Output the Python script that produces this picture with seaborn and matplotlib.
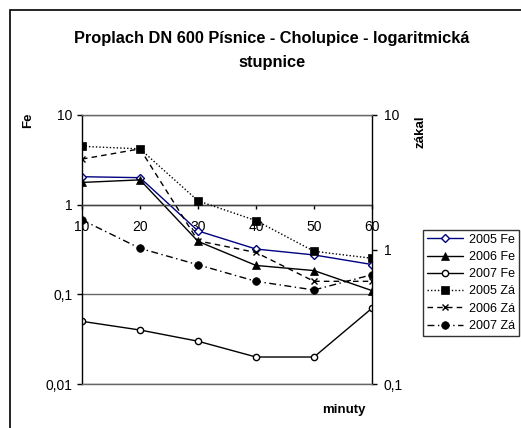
import matplotlib
matplotlib.use("Agg")
import matplotlib.pyplot as plt
import seaborn as sns
from matplotlib.ticker import FixedLocator, FuncFormatter, NullLocator
from matplotlib.patches import Rectangle

# ---- data ----
minutes = [10, 20, 30, 40, 50, 60]
fe_2005 = [2.05, 2.0, 0.51, 0.32, 0.275, 0.215]
fe_2006 = [1.77, 1.89, 0.39, 0.21, 0.184, 0.11]
fe_2007 = [0.05, 0.04, 0.03, 0.02, 0.02, 0.07]
za_2005 = [5.85, 5.6, 2.3, 1.64, 0.97, 0.86]
za_2006 = [4.7, 5.6, 1.16, 0.95, 0.58, 0.58]
za_2007 = [1.66, 1.02, 0.77, 0.58, 0.50, 0.65]

title = "Proplach DN 600 Písnice - Cholupice - logaritmická\nstupnice"
left_ticks = [0.01, 0.1, 1, 10]
right_ticks = [0.1, 1, 10]

sns.set_theme(style="white")
plt.rcParams['font.family'] = ['Liberation Sans', 'DejaVu Sans']
plt.rcParams['text.color'] = 'black'
plt.rcParams['axes.labelcolor'] = 'black'
plt.rcParams['xtick.color'] = 'black'
plt.rcParams['ytick.color'] = 'black'

W, H = 521, 428
fig = plt.figure(figsize=(W / 100, H / 100), dpi=100)
ax = fig.add_axes([82 / W, 1 - 384 / H, (372 - 82) / W, (384 - 115) / H])
ax2 = ax.twinx()

navy = "#000080"
lw = 1.0
sns.lineplot(x=minutes, y=fe_2005, ax=ax, color=navy, lw=lw, marker="D", markersize=4,
             markerfacecolor="white", markeredgecolor=navy, markeredgewidth=1,
             label="2005 Fe", legend=False)
sns.lineplot(x=minutes, y=fe_2006, ax=ax, color="black", lw=lw, marker="^", markersize=6,
             markerfacecolor="black", markeredgecolor="black", markeredgewidth=0.5,
             label="2006 Fe", legend=False)
sns.lineplot(x=minutes, y=fe_2007, ax=ax, color="black", lw=lw, marker="o", markersize=4.5,
             markerfacecolor="white", markeredgecolor="black", markeredgewidth=1,
             label="2007 Fe", legend=False)
sns.lineplot(x=minutes, y=za_2005, ax=ax2, color="black", lw=lw, linestyle=(0, (1, 1.5)),
             marker="s", markersize=5.5, markerfacecolor="black", markeredgecolor="black",
             markeredgewidth=0.5, label="2005 Zá", legend=False)
sns.lineplot(x=minutes, y=za_2006, ax=ax2, color="black", lw=lw, linestyle=(0, (4, 3)),
             marker="x", markersize=5, markeredgecolor="black", markeredgewidth=1,
             label="2006 Zá", legend=False)
sns.lineplot(x=minutes, y=za_2007, ax=ax2, color="black", lw=lw, linestyle=(0, (5, 2.5, 1, 2.5)),
             marker="o", markersize=5.5, markerfacecolor="black", markeredgecolor="black",
             markeredgewidth=0.5, label="2007 Zá", legend=False)

fmt = FuncFormatter(lambda v, p: f"{v:g}".replace(".", ","))

for a in (ax, ax2):
    a.set_yscale("log")
    a.set_xlim(10, 60)
    a.set_xlabel("")
    a.set_ylabel("")
    a.yaxis.set_minor_locator(NullLocator())
    for s in a.spines.values():
        s.set_visible(False)

ax.set_ylim(0.01, 10)
ax.yaxis.set_major_locator(FixedLocator(left_ticks))
ax.yaxis.set_major_formatter(fmt)
ax.yaxis.grid(True, color="#666666", lw=1)
ax.xaxis.grid(False)
ax.set_xticks(minutes)
ax.set_xticklabels([str(m) for m in minutes])
ax.spines["left"].set_visible(True)
ax.spines["left"].set_color("black")
ax.spines["left"].set_linewidth(1)
ax.spines["bottom"].set_visible(True)
ax.spines["bottom"].set_position(("data", 1))
ax.spines["bottom"].set_color("#444444")
ax.spines["bottom"].set_linewidth(1)
ax.tick_params(axis="y", which="major", left=True, direction="out", length=3.6, width=1,
               color="black", pad=3, labelsize=10, labelcolor="black")
ax.tick_params(axis="x", which="major", bottom=True, direction="out", length=3, width=1,
               color="black", pad=8, labelsize=10, labelcolor="black")

ax2.set_ylim(0.1, 10)
ax2.yaxis.set_major_locator(FixedLocator(right_ticks))
ax2.yaxis.set_major_formatter(fmt)
ax2.grid(False)
for side in ("top", "bottom"):
    ax2.spines[side].set_visible(True)
    ax2.spines[side].set_color("#666666")
    ax2.spines[side].set_linewidth(1)
ax2.spines["right"].set_visible(True)
ax2.spines["right"].set_color("black")
ax2.spines["right"].set_linewidth(1)
ax2.tick_params(axis="x", which="both", bottom=False, top=False, labelbottom=False)
ax2.tick_params(axis="y", which="major", right=True, direction="out", length=3.6, width=1,
                color="black", pad=5, labelsize=10, labelcolor="black")

# texts
fig.text(272 / W, 1 - 50 / H, title, ha="center", va="center", fontsize=11.8,
         fontweight="bold", linespacing=1.75)
fig.text(28 / W, 1 - 120 / H, "Fe", rotation=90, ha="center", va="center",
         fontsize=9.5, fontweight="bold")
fig.text(421 / W, 1 - 132 / H, "zákal", rotation=90, ha="center", va="center",
         fontsize=9.5, fontweight="bold")
fig.text(344 / W, 1 - 410 / H, "minuty", ha="center", va="center",
         fontsize=9.5, fontweight="bold")

# legend
h1, l1 = ax.get_legend_handles_labels()
h2, l2 = ax2.get_legend_handles_labels()
leg = fig.legend(h1 + h2, l1 + l2, loc="upper left",
                 bbox_to_anchor=(423 / W, 1 - 230 / H), bbox_transform=fig.transFigure,
                 frameon=True, fancybox=False, shadow=False, fontsize=9,
                 handlelength=2.9, handletextpad=0.45, borderpad=0.3,
                 labelspacing=0.42, borderaxespad=0)
leg.get_frame().set_edgecolor("black")
leg.get_frame().set_linewidth(1)

# outer chart border
fig.patches.append(Rectangle((10 / W, -0.1), 2, 1 - 10 / H + 0.1, transform=fig.transFigure,
                             fill=False, edgecolor="black", lw=1.2))

fig.savefig("out.png", dpi=100)
